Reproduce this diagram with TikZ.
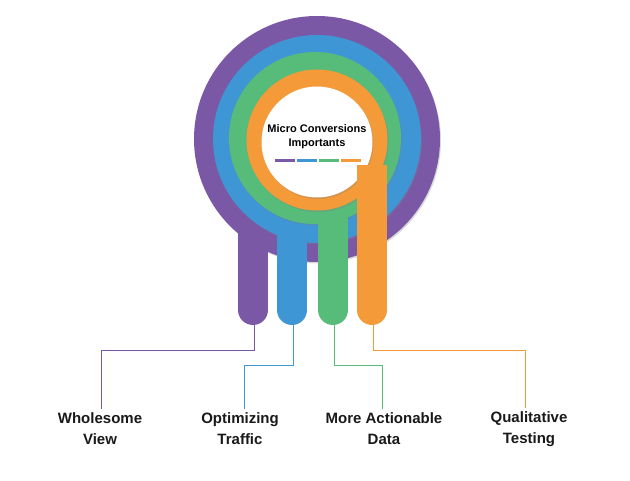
\documentclass[tikz,border=0pt]{standalone}
\usepackage{fontspec}
\setmainfont{Liberation Sans}
\usetikzlibrary{shadows}
\definecolor{cP}{HTML}{7B58A6}
\definecolor{cB}{HTML}{3E96D4}
\definecolor{cG}{HTML}{57BB7A}
\definecolor{cO}{HTML}{F59A38}
\begin{document}
\begin{tikzpicture}[x=1pt,y=-1pt,
  disc/.style={circle,inner sep=0pt,draw=none,drop shadow={shadow xshift=1pt,shadow yshift=-1.5pt,opacity=.3}},
  tail/.style={line width=30pt,line cap=round},
  lead/.style={line width=0.9pt},
  lab/.style={font=\bfseries\fontsize{15}{21}\selectfont,align=center,text=black!90}]
\useasboundingbox (0,0) rectangle (630,481);
\node[disc,fill=cP,minimum size=246pt] (p) at (317,139) {};
\draw[tail,cP] (253,230) -- (253,310) coordinate (pe);
\node[disc,fill=cB,minimum size=208pt] (b) at (317,139) {};
\draw[tail,cB] (292,225) -- (292,310) coordinate (be);
\node[disc,fill=cG,minimum size=172pt] (g) at (315,138) {};
\draw[tail,cG] (333,215) -- (333,310) coordinate (ge);
\node[disc,fill=cO,minimum size=141pt] (o) at (317,140) {};
\node[disc,fill=white,minimum size=111pt] (w) at (317,142) {};
\draw[tail,cO,line cap=butt] (372,165) -- (372,310) coordinate (oe);
\fill[cO] (372,310) circle (15pt);
\node[font=\bfseries\fontsize{11}{14}\selectfont,align=center] (t) at (317,137) {Micro Conversions\\Importants};
\foreach \a/\c in {275/cP,297/cB,319/cG,341/cO}
  \draw[\c,line width=3pt] (\a,161) -- ++(20,0);
\node[lab] (l1) at (100,429) {Wholesome\\View};
\node[lab] (l2) at (240,429) {Optimizing\\Traffic};
\node[lab] (l3) at (384,429) {More Actionable\\Data};
\node[lab] (l4) at (529,429) {Qualitative\\Testing};
\draw[lead,cP] (254,325) |- (101,350) -- (l1.north-|101,0);
\draw[lead,cB] (293,325) |- (244,365) -- (l2.north-|244,0);
\draw[lead,cG] (334,325) |- (382,365) -- (l3.north-|382,0);
\draw[lead,cO] (373,325) |- (525,350) -- (l4.north-|525,0);
\end{tikzpicture}
\end{document}
